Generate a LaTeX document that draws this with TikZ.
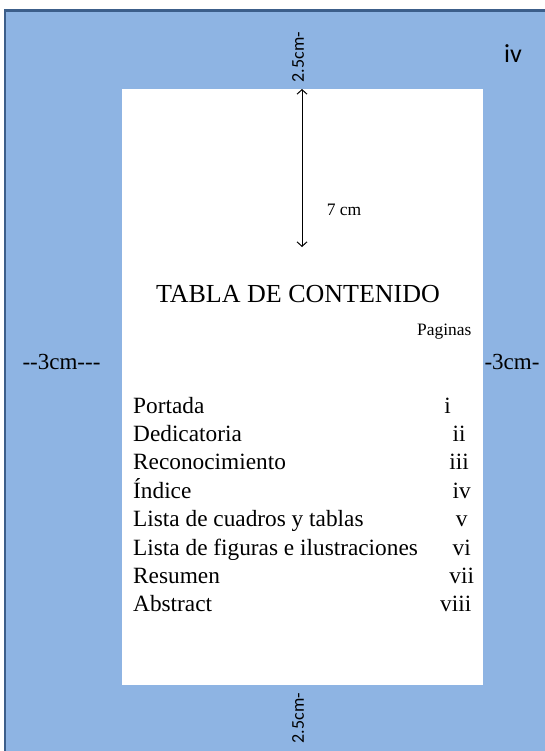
\documentclass[tikz,border=0pt]{standalone}
\usepackage{fontspec}
\setmainfont{Liberation Serif}
\newfontfamily\calib{Carlito}
\usepackage{tikz}
\usetikzlibrary{arrows,arrows.meta}
\definecolor{margenazul}{RGB}{142,180,227}
\definecolor{bordeazul}{RGB}{60,94,138}

\begin{document}
\begin{tikzpicture}[x={(1pt,0)},y={(0,-1pt)}]
  \tikzstyle{Margen}=[fill=margenazul,draw=bordeazul,line width=2.5pt]
  \tikzstyle{Hoja}=[fill=white]
  \tikzstyle{Medida}=[inner sep=0pt,anchor=base,font=\fontsize{23}{28}\selectfont]
  \tikzstyle{Vertical}=[inner sep=0pt,rotate=90,font=\calib\fontsize{18}{20}\selectfont]
  \tikzstyle{Item}=[inner sep=0pt,anchor=base west,font=\fontsize{23.3}{28}\selectfont]
  \tikzstyle{Num}=[inner sep=0pt,anchor=base,font=\fontsize{23.3}{28}\selectfont]
  \clip (0,0) rectangle (545,751);
  \draw[Margen] (5,10.5) rectangle (570,770);
  \fill[Hoja] (122,89) rectangle (483,685);
  % medidas
  \coordinate (arriba) at (302,89);
  \coordinate (abajo) at (302,247);
  \draw[{Straight Barb[length=4.5pt,width=10pt]}-{Straight Barb[length=4.5pt,width=10pt]},line width=1pt] (arriba) -- (abajo);
  \node[inner sep=0pt,font=\fontsize{17.5}{20}\selectfont] (siete) at (344,210) {7 cm};
  \node[Vertical] (supmar) at (298,57) {2.5cm-};
  \node[Vertical] (infmar) at (298,718) {2.5cm-};
  \node[Medida] (izqmar) at (61.5,369) {-{}-3cm-{}-{}-};
  \node[Medida] (dermar) at (512,369) {-3cm-};
  \node[inner sep=0pt,font=\calib\fontsize{26}{28}\selectfont] (numpag) at (513,54) {iv};
  % contenido
  \node[inner sep=0pt,anchor=base,font=\fontsize{26}{30}\selectfont] (titulo) at (298,302) {TABLA DE CONTENIDO};
  \node[inner sep=0pt,anchor=base west,font=\fontsize{17.4}{20}\selectfont] (paginas) at (417,335) {Paginas};
  \foreach \texto/\num/\nx [count=\i] in {Portada/i/447.7,Dedicatoria/ii/459,Reconocimiento/iii/459,%
      \'Indice/iv/461.7,Lista de cuadros y tablas/v/461.7,Lista de figuras e ilustraciones/vi/461.7,%
      Resumen/vii/461.7,Abstract/viii/455.7}{
    \node[Item] (item\i) at (133,384.6+28.4*\i) {\texto};
    \node[Num] (num\i) at (\nx,384.6+28.4*\i) {\num};
  }
\end{tikzpicture}
\end{document}
